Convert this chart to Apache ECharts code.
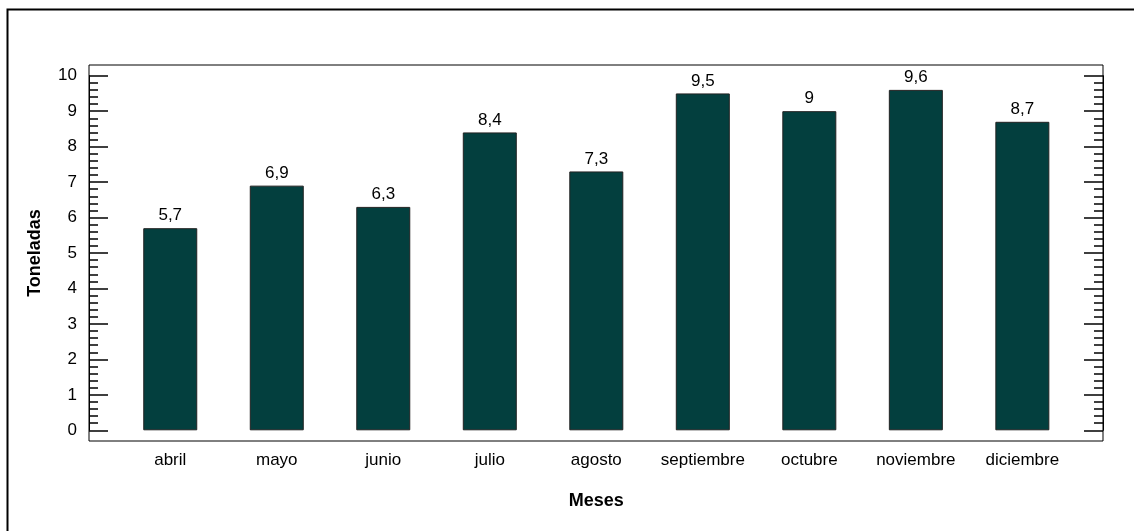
<!DOCTYPE html>
<html>
<head>
<meta charset="utf-8">
<script src="https://cdn.jsdelivr.net/npm/echarts@6/dist/echarts.min.js"></script>
<style>
html,body{margin:0;padding:0;background:#fff;}
#chart{width:1134px;height:531px;}
</style>
</head>
<body>
<div id="chart"></div>
<script>
const categories = ['abril','mayo','junio','julio','agosto','septiembre','octubre','noviembre','diciembre'];
const values = [5.7, 6.9, 6.3, 8.4, 7.3, 9.5, 9, 9.6, 8.7];
const xTitle = 'Meses';
const yTitle = 'Toneladas';

const FONT = '"Liberation Sans", Arial, sans-serif';
const chart = echarts.init(document.getElementById('chart'), null, {renderer:'canvas'});
const fmt = v => String(v).replace('.', ',');

chart.setOption({
  animation: false,
  backgroundColor: '#fff',
  textStyle: {fontFamily: FONT, color: '#000'},
  graphic: [{
    type: 'rect', left: 5, top: 7,
    shape: {width: 1200, height: 600},
    style: {fill: 'none', stroke: '#000', lineWidth: 2},
    silent: true
  }],
  grid: [
    {left: 117, right: 58.4, top: 75.7, bottom: 100.7},
    {left: 89, right: 31, top: 65, bottom: 90, show: true, borderColor: '#000', borderWidth: 1, backgroundColor: 'transparent'}
  ],
  xAxis: [
    {
      type: 'category', gridIndex: 0, data: categories,
      axisLine: {show: false}, axisTick: {show: false},
      axisLabel: {interval: 0, fontSize: 17, color: '#000', margin: 22, fontFamily: FONT},
      name: xTitle, nameLocation: 'middle', nameGap: 62,
      nameTextStyle: {fontSize: 18, fontWeight: 'bold', color: '#000', fontFamily: FONT}
    },
    {type: 'value', gridIndex: 1, show: false, min: 0, max: 1}
  ],
  yAxis: [
    {
      type: 'value', gridIndex: 0, position: 'left', offset: 28,
      min: 0, max: 10, interval: 1,
      axisLine: {show: true, lineStyle: {color: '#000', width: 1}},
      axisTick: {show: true, inside: true, length: 19, lineStyle: {color: '#000', width: 1.5}},
      minorTick: {show: true, splitNumber: 5, length: 9, lineStyle: {color: '#000', width: 1.5}},
      splitLine: {show: false},
      axisLabel: {fontSize: 17, color: '#000', margin: 12, fontFamily: FONT},
      name: yTitle, nameLocation: 'middle', nameGap: 45,
      nameTextStyle: {fontSize: 18, fontWeight: 'bold', color: '#000', fontFamily: FONT}
    },
    {
      type: 'value', gridIndex: 0, position: 'right', offset: 27.4,
      min: 0, max: 10, interval: 1,
      axisLine: {show: true, lineStyle: {color: '#000', width: 1}},
      axisTick: {show: true, inside: true, length: 19, lineStyle: {color: '#000', width: 1.5}},
      minorTick: {show: true, splitNumber: 5, length: 9, lineStyle: {color: '#000', width: 1.5}},
      splitLine: {show: false},
      axisLabel: {show: false}
    },
    {type: 'value', gridIndex: 1, show: false, min: 0, max: 1}
  ],
  series: [{
    type: 'bar', xAxisIndex: 0, yAxisIndex: 0,
    data: values, barWidth: 54,
    itemStyle: {color: '#033f3e', borderColor: '#222', borderWidth: 1},
    label: {show: true, position: 'top', distance: 4, fontSize: 17, color: '#000', fontFamily: FONT, formatter: p => fmt(p.value)}
  }]
});
</script>
</body>
</html>
